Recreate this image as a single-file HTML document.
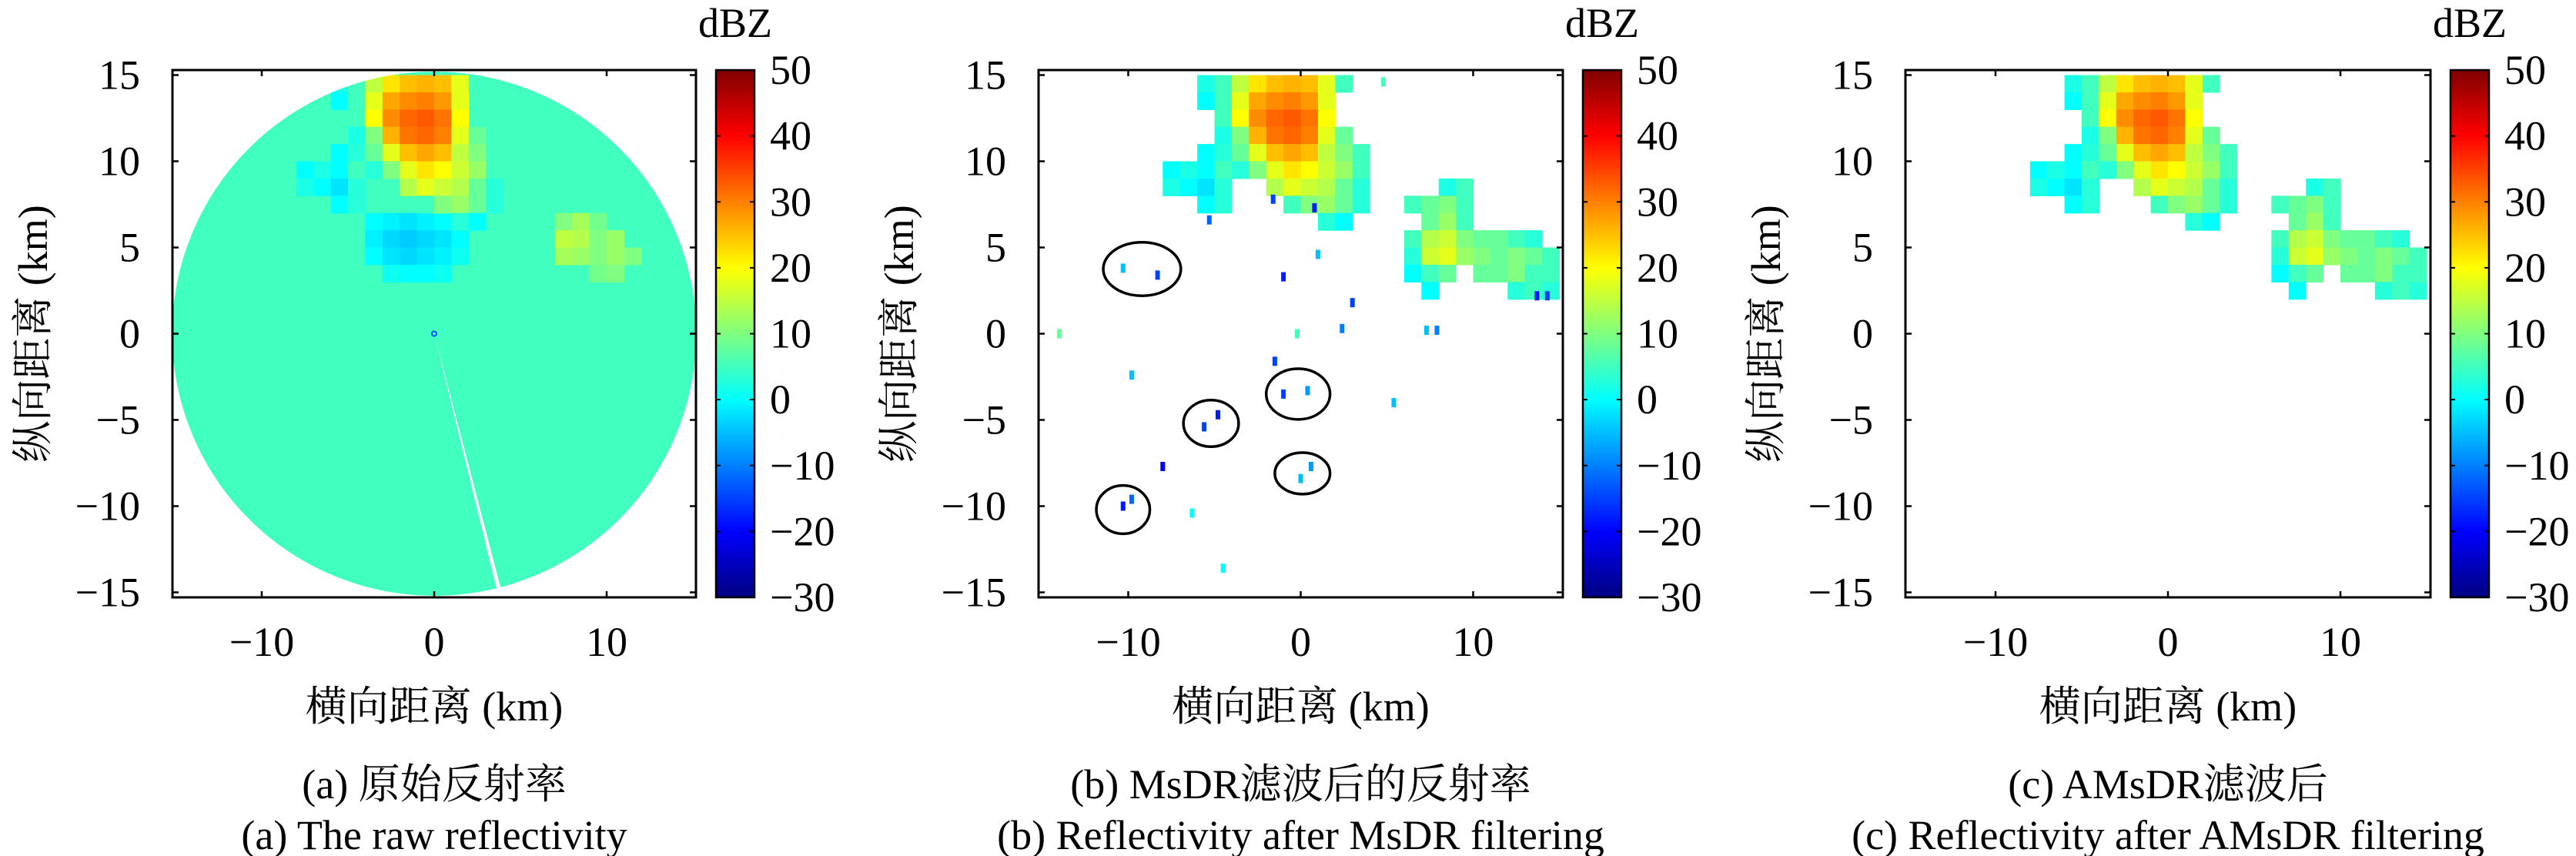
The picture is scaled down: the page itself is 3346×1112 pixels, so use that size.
<!DOCTYPE html>
<html><head><meta charset="utf-8">
<style>
html,body{margin:0;padding:0;background:#fff;}
svg{display:block;}
svg text{font-family:"Liberation Serif","DejaVu Serif","Noto Serif CJK SC",serif;fill:#000;}
</style></head>
<body>
<svg id="fig" width="3346" height="1112" viewBox="0 0 3346 1112" xmlns="http://www.w3.org/2000/svg" font-family="Liberation Serif, DejaVu Serif, Noto Serif CJK SC, serif">
<defs>
<linearGradient id="jetGrad" x1="0" y1="1" x2="0" y2="0"></linearGradient>
<clipPath id="clipA"><rect x="224" y="91" width="680" height="685"/></clipPath>
<clipPath id="clipB"><rect x="1349" y="91" width="681" height="685"/></clipPath>
<clipPath id="clipC"><rect x="2475" y="91" width="682" height="685"/></clipPath>
</defs>
</svg>
<script>
// ---- data (km coordinates, dBZ values) ----
const xTicks = [-10, 0, 10];
const yTicks = [15, 10, 5, 0, -5, -10, -15];
const cbTicks = [50, 40, 30, 20, 10, 0, -10, -20, -30];
const cbMin = -30, cbMax = 50;
const diskRadiusKm = 15.2;
const rawBaseDbz = 5;
// storm 1 rows: [yCenter, xStart, values per 1 km cell]
const storm1Rows = [
  [14.5, -6, [2, 5, 15, 22, 25, 26, 25, 18, 5]],
  [13.5, -6, [0, 5, 18, 27, 29, 30, 28, 18]],
  [12.5, -5, [5, 20, 29, 32, 33, 31, 20]],
  [11.5, -5, [2, 10, 26, 31, 32, 30, 18, 8]],
  [10.5, -6, [0, 3, 8, 18, 25, 27, 25, 15, 10, 5]],
  [9.5, -8, [0, 2, 0, 5, 3, 10, 18, 22, 20, 16, 12, 5]],
  [8.5, -8, [2, 0, -2, 3, null, null, 14, 18, 16, 14, 8, 3]],
  [7.5, -6, [0, 3, null, null, null, 5, 10, 12, 8, 3]],
  [6.5, 1, [3, 0]]
];
const storm2Rows = [
  [8.5, 8, [2, 5]],
  [7.5, 6, [5, 8, 10, 5]],
  [6.5, 7, [8, 12, 5]],
  [5.5, 6, [5, 14, 16, 10, 8, 8, 5, 3]],
  [4.5, 6, [3, 16, 18, 12, 10, 8, 10, 8, 5]],
  [3.5, 6, [0, 5, 8, null, 8, 8, 10, 5, 5]],
  [2.5, 7, [0, null, null, null, null, 3, 5, 3]]
];
// raw panel extra patches: [yCenter, xStart, values]
const rawRows = [
  [9.5, -1, [20, 22, 20, 16]],
  [8.5, -1, [18, 20, 18, 14]],
  [7.5, -1, [14, 16, 18, 12]],
  [6.5, -4, [0, -1, -2, -1, 0, 1]],
  [5.5, -4, [-1, -3, -4, -3, -2, 0]],
  [4.5, -4, [0, -2, -3, -2, -1, 1]],
  [3.5, -3, [1, 0, 0, 1]],
  [6.5, 7, [10, 13, 9]],
  [5.5, 7, [15, 14, 10, 12]],
  [4.5, 7, [13, 12, 10, 12, 10]],
  [3.5, 9, [9, 10]]
];
// speckle points in MsDR panel: x, y, dBZ
const specksX = [-10.3, -8.3, -10.3, -9.8, -5.6, -4.8, -1.0, 0.4, 0.0, 0.6, -8.0, -14.0, -9.8, -6.3, -4.5, -1.5, 5.4, 3.0, -1.0, 1.0, 7.3, 7.9, 2.4, -0.2, 4.8, 13.7, 14.3, -5.3, -1.6, 0.8];
const specksY = [3.8, 3.4, -10.0, -9.6, -5.4, -4.7, -3.5, -3.3, -8.4, -7.7, -7.7, 0.0, -2.4, -10.4, -13.6, -1.6, -4.0, 1.8, 3.3, 4.6, 0.2, 0.2, 0.3, 0.0, 14.6, 2.2, 2.2, 6.6, 7.8, 7.3];
const specksV = [-5, -15, -18, -12, -15, -18, -15, -8, -5, -8, -20, 8, -5, 0, 0, -15, -5, -15, -18, -5, -5, -10, -10, 5, 5, -18, -15, -12, -15, -18];
// highlight ellipses (MsDR panel): centre x, y, radii (km)
const ellX = [-9.2, -0.15, -5.2, 0.1, -10.3];
const ellY = [3.75, -3.5, -5.2, -8.1, -10.2];
const ellRx = [2.25, 1.85, 1.6, 1.6, 1.55];
const ellRy = [1.55, 1.47, 1.35, 1.2, 1.4];
// blind ray (raw panel): angle clockwise from north, degrees
const blindAngle = 14.2;

// ---- layout ----
const NS = "http://www.w3.org/2000/svg";
const FONT = '"Liberation Serif", "DejaVu Serif", "Noto Serif CJK SC", serif';
const svg = document.getElementById('fig');
const K = 22.4;
const panels = [
  {id:'a', left:224, right:904, cb:930, clip:'clipA', cap1:'(a) 原始反射率', cap2:'(a) The raw reflectivity'},
  {id:'b', left:1349, right:2030, cb:2056, clip:'clipB', cap1:'(b) MsDR滤波后的反射率', cap2:'(b) Reflectivity after MsDR filtering'},
  {id:'c', left:2475, right:3157, cb:3183, clip:'clipC', cap1:'(c) AMsDR滤波后', cap2:'(c) Reflectivity after AMsDR filtering'}
];
const TOP = 91, BOT = 776, CBW = 50;
const CY = (TOP + BOT) / 2;

function jet(d){
  let v = (d - cbMin) / (cbMax - cbMin);
  v = Math.max(0, Math.min(1, v));
  const c = t => Math.round(255 * Math.max(0, Math.min(1, t)));
  return `rgb(${c(1.5 - Math.abs(4*v - 3))},${c(1.5 - Math.abs(4*v - 2))},${c(1.5 - Math.abs(4*v - 1))})`;
}
function el(tag, attrs, parent){
  const e = document.createElementNS(NS, tag);
  for (const k in attrs) e.setAttribute(k, attrs[k]);
  if (tag === 'text') e.style.fontFamily = FONT;
  (parent || svg).appendChild(e);
  return e;
}
const grad = document.getElementById('jetGrad');
for (let i = 0; i <= 16; i++){
  const d = cbMin + (cbMax - cbMin) * i / 16;
  el('stop', {offset: (i/16).toFixed(4), 'stop-color': jet(d)}, grad);
}

function drawRows(g, rows, sx, sy){
  rows.forEach(r => {
    const [yc, x0, vals] = r;
    vals.forEach((v, i) => {
      if (v === null) return;
      const cell = el('rect', {x: sx(x0 + i), y: sy(yc + 0.5), width: K + 0.6, height: K + 0.6, fill: jet(v)}, g);
      
      
    });
  });
}

panels.forEach(p => {
  const cx = (p.left + p.right) / 2;
  const sx = x => cx + x * K;
  const sy = y => CY - y * K;
  const g = el('g', {'clip-path': `url(#${p.clip})`});
  
  

  if (p.id === 'a'){
    const disk = el('circle', {cx: cx, cy: CY, r: diskRadiusKm * K, fill: jet(rawBaseDbz)}, g);
    
    
    const dg = el('g', {}, g);
    drawRows(dg, rawRows, sx, sy);
    drawRows(dg, storm1Rows, sx, sy);
    const a = blindAngle * Math.PI / 180, w = 0.45 * Math.PI / 180, R = (diskRadiusKm + 1) * K;
    const ray = el('polygon', {points: `${cx},${CY} ${cx + R*Math.sin(a - w)},${CY + R*Math.cos(a - w)} ${cx + R*Math.sin(a + w)},${CY + R*Math.cos(a + w)}`, fill: '#fff'}, g);
    
    
    const mask = el('circle', {cx: cx, cy: CY, r: diskRadiusKm * K + 60, fill: 'none', stroke: '#fff', 'stroke-width': 120}, g);
    
    
    const dot = el('circle', {cx: cx, cy: CY, r: 3, fill: 'none', stroke: '#0050ff', 'stroke-width': 2}, g);
    
    
  } else {
    drawRows(g, storm1Rows, sx, sy);
    drawRows(g, storm2Rows, sx, sy);
    if (p.id === 'b'){
      specksX.forEach((x, i) => {
        const s = el('rect', {x: sx(x) - 3, y: sy(specksY[i]) - 6, width: 6, height: 12, fill: jet(specksV[i])}, g);
        
        
      });
      ellX.forEach((x, i) => {
        const e = el('ellipse', {cx: sx(x), cy: sy(ellY[i]), rx: ellRx[i] * K, ry: ellRy[i] * K, fill: 'none', stroke: '#000', 'stroke-width': 3.5}, g);
        
        
      });
    }
  }

  const box = el('rect', {x: p.left, y: TOP, width: p.right - p.left, height: BOT - TOP, fill: 'none', stroke: '#000', 'stroke-width': 3});
  
  

  xTicks.forEach(t => {
    const x = sx(t);
    el('line', {x1: x, y1: BOT, x2: x, y2: BOT - 8, stroke: '#000', 'stroke-width': 2.5});
    el('line', {x1: x, y1: TOP, x2: x, y2: TOP + 8, stroke: '#000', 'stroke-width': 2.5});
    const tl = el('text', {x: x, y: 852, 'font-size': 54, 'text-anchor': 'middle'});
    tl.textContent = t < 0 ? '\u2212' + Math.abs(t) : String(t);
    
    
  });
  yTicks.forEach(t => {
    const y = sy(t);
    el('line', {x1: p.left, y1: y, x2: p.left + 8, y2: y, stroke: '#000', 'stroke-width': 2.5});
    el('line', {x1: p.right, y1: y, x2: p.right - 8, y2: y, stroke: '#000', 'stroke-width': 2.5});
    const tl = el('text', {x: p.left - 42, y: y + 18, 'font-size': 54, 'text-anchor': 'end'});
    tl.textContent = t < 0 ? '\u2212' + Math.abs(t) : String(t);
    
    
  });

  const xt = el('text', {x: cx, y: 936, 'font-size': 54, 'text-anchor': 'middle'});
  xt.textContent = '横向距离 (km)';
  
  
  const yx = p.left - 181;
  const yt = el('text', {x: yx, y: CY, 'font-size': 54, 'text-anchor': 'middle', transform: `rotate(-90 ${yx} ${CY}) translate(0 18)`});
  yt.textContent = '纵向距离 (km)';
  
  

  const c1 = el('text', {x: cx, y: 1037, 'font-size': 54, 'text-anchor': 'middle'});
  c1.textContent = p.cap1;
  
  
  const c2 = el('text', {x: cx, y: 1103, 'font-size': 54, 'text-anchor': 'middle'});
  c2.textContent = p.cap2;
  
  

  const cb = el('rect', {x: p.cb, y: TOP, width: CBW, height: BOT - TOP, fill: 'url(#jetGrad)', stroke: '#000', 'stroke-width': 2.5});
  
  
  const cbY = d => BOT - (d - cbMin) / (cbMax - cbMin) * (BOT - TOP);
  cbTicks.forEach(t => {
    const y = cbY(t);
    el('line', {x1: p.cb, y1: y, x2: p.cb + 6, y2: y, stroke: '#000', 'stroke-width': 2});
    el('line', {x1: p.cb + CBW, y1: y, x2: p.cb + CBW - 6, y2: y, stroke: '#000', 'stroke-width': 2});
    const tl = el('text', {x: p.cb + CBW + 20, y: y + 18, 'font-size': 54});
    tl.textContent = t < 0 ? '\u2212' + Math.abs(t) : String(t);
    
    
  });
  const u = el('text', {x: p.cb + CBW / 2, y: 48, 'font-size': 54, 'text-anchor': 'middle'});
  u.textContent = 'dBZ';
  
  
});
</script>
</body></html>
